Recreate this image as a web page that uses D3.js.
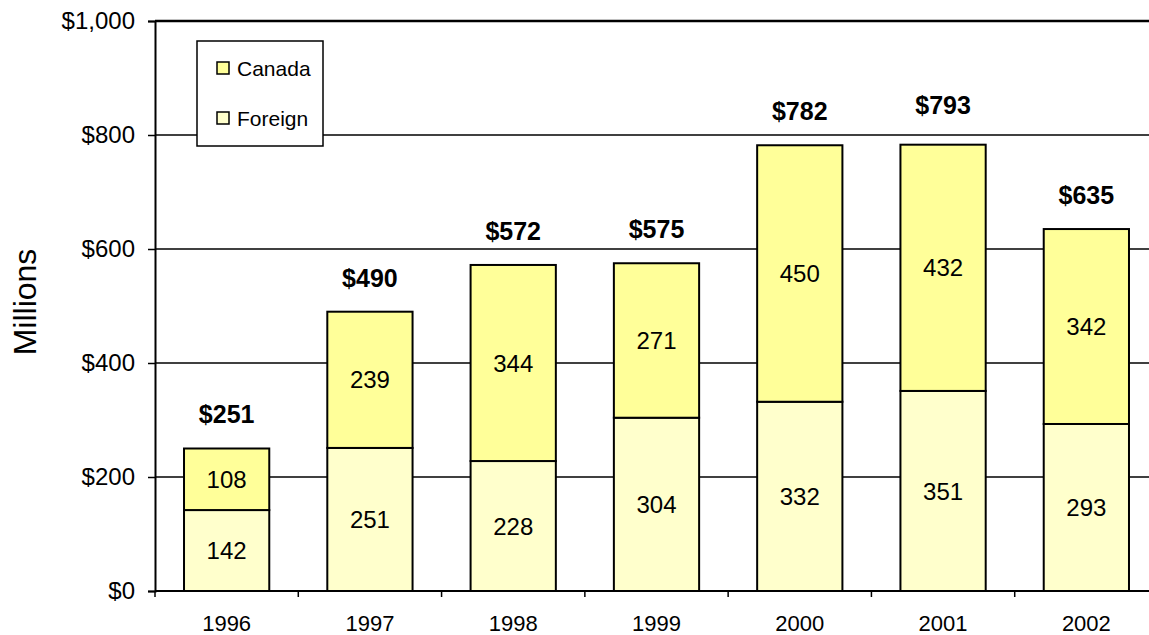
<!DOCTYPE html>
<html>
<head>
<meta charset="utf-8">
<script src="https://cdn.jsdelivr.net/npm/d3@7/dist/d3.min.js"></script>
<style>
  html, body { margin: 0; padding: 0; background: #fff; overflow: hidden; }
  svg { display: block; font-family: Arial, "Liberation Sans", sans-serif; }
</style>
</head>
<body>
<svg id="chart" width="1149" height="635"></svg>
<script>
// Revenue by source, millions of dollars
const years    = ["1996", "1997", "1998", "1999", "2000", "2001", "2002"];
const foreign  = [142, 251, 228, 304, 332, 351, 293];
const canada   = [108, 239, 344, 271, 450, 432, 342];
const totals   = [251, 490, 572, 575, 782, 793, 635];
const yTicks   = [0, 200, 400, 600, 800, 1000];
const seriesNames = ["Canada", "Foreign"];

const colors = { Canada: "#ffff99", Foreign: "#ffffcc" };

const W = 1149, H = 635;
// plot area runs a little past the right edge of the canvas
const plotLeft = 155, plotRight = 1158, plotTop = 21, plotBottom = 591;
const svg = d3.select("#chart");

const x = d3.scaleBand()
  .domain(years)
  .range([plotLeft, plotRight])
  .paddingInner(0.405)
  .paddingOuter(0.2025);

const y = d3.scaleLinear()
  .domain([0, 1000])
  .range([plotBottom, plotTop]);

// gridlines
svg.append("g")
  .selectAll("line")
  .data(yTicks.filter(d => d > 0))
  .join("line")
  .attr("x1", plotLeft)
  .attr("x2", plotRight)
  .attr("y1", d => y(d))
  .attr("y2", d => y(d))
  .attr("stroke", "#000")
  .attr("stroke-width", d => d === 1000 ? 2.4 : 1.4);

// y axis
const yAxis = svg.append("g")
  .attr("transform", `translate(${plotLeft},0)`)
  .call(d3.axisLeft(y).tickValues(yTicks).tickSize(7).tickPadding(13)
    .tickFormat(d => "$" + d3.format(",")(d)));
yAxis.select(".domain").attr("stroke", "#000").attr("stroke-width", 2);
yAxis.selectAll(".tick line").attr("stroke", "#000").attr("stroke-width", 1.5);
yAxis.selectAll(".tick text")
  .attr("font-size", 24).attr("fill", "#000")
  .attr("font-family", "Arial, 'Liberation Sans', sans-serif");

// stacked data
const rows = years.map((yr, i) => ({ year: yr, Foreign: foreign[i], Canada: canada[i] }));
const stack = d3.stack().keys(["Foreign", "Canada"]);
const layers = stack(rows);

const barG = svg.append("g");
layers.forEach(layer => {
  barG.append("g")
    .selectAll("rect")
    .data(layer)
    .join("rect")
    .attr("x", d => x(d.data.year))
    .attr("width", x.bandwidth())
    .attr("y", d => y(d[1]))
    .attr("height", d => y(d[0]) - y(d[1]))
    .attr("fill", colors[layer.key])
    .attr("stroke", "#000")
    .attr("stroke-width", 2);
});

// segment values
layers.forEach(layer => {
  barG.append("g")
    .selectAll("text")
    .data(layer)
    .join("text")
    .attr("x", d => x(d.data.year) + x.bandwidth() / 2)
    .attr("y", d => (y(d[0]) + y(d[1])) / 2)
    .attr("dy", "0.36em")
    .attr("text-anchor", "middle")
    .attr("font-size", 24)
    .attr("fill", "#000")
    .text(d => d.data[layer.key]);
});

// totals above bars
svg.append("g")
  .selectAll("text")
  .data(years.map((yr, i) => ({ year: yr, total: totals[i] })))
  .join("text")
  .attr("x", d => x(d.year) + x.bandwidth() / 2)
  .attr("y", d => y(d.total) - 34)
  .attr("dy", "0.36em")
  .attr("text-anchor", "middle")
  .attr("font-size", 25)
  .attr("font-weight", "bold")
  .attr("fill", "#000")
  .text(d => "$" + d.total);

// x axis
const xBase = y(0);
svg.append("line")
  .attr("x1", plotLeft).attr("x2", plotRight)
  .attr("y1", xBase).attr("y2", xBase)
  .attr("stroke", "#000").attr("stroke-width", 2);

const step = x.step();
const bounds = d3.range(years.length + 1).map(i => plotLeft + i * step);
svg.append("g")
  .selectAll("line")
  .data(bounds)
  .join("line")
  .attr("x1", d => d).attr("x2", d => d)
  .attr("y1", xBase).attr("y2", xBase + 6)
  .attr("stroke", "#000").attr("stroke-width", 1.5);

svg.append("g")
  .selectAll("text")
  .data(years)
  .join("text")
  .attr("x", d => x(d) + x.bandwidth() / 2)
  .attr("y", xBase + 32)
  .attr("dy", "0.36em")
  .attr("text-anchor", "middle")
  .attr("font-size", 22)
  .attr("fill", "#000")
  .text(d => d);

// y axis title
svg.append("text")
  .attr("transform", "translate(36,302) rotate(-90)")
  .attr("text-anchor", "middle")
  .attr("font-size", 32)
  .attr("fill", "#000")
  .text("Millions");

// legend
const lg = svg.append("g").attr("transform", "translate(197,41)");
lg.append("rect")
  .attr("width", 126).attr("height", 105)
  .attr("fill", "#fff").attr("stroke", "#000").attr("stroke-width", 1.5);
seriesNames.forEach((name, i) => {
  const cy = 27 + i * 50;
  lg.append("rect")
    .attr("x", 20).attr("y", cy - 6)
    .attr("width", 12).attr("height", 12)
    .attr("fill", colors[name]).attr("stroke", "#000").attr("stroke-width", 1.5);
  lg.append("text")
    .attr("x", 40).attr("y", cy)
    .attr("dy", "0.36em")
    .attr("font-size", 21)
    .attr("fill", "#000")
    .text(name);
});
</script>
</body>
</html>
